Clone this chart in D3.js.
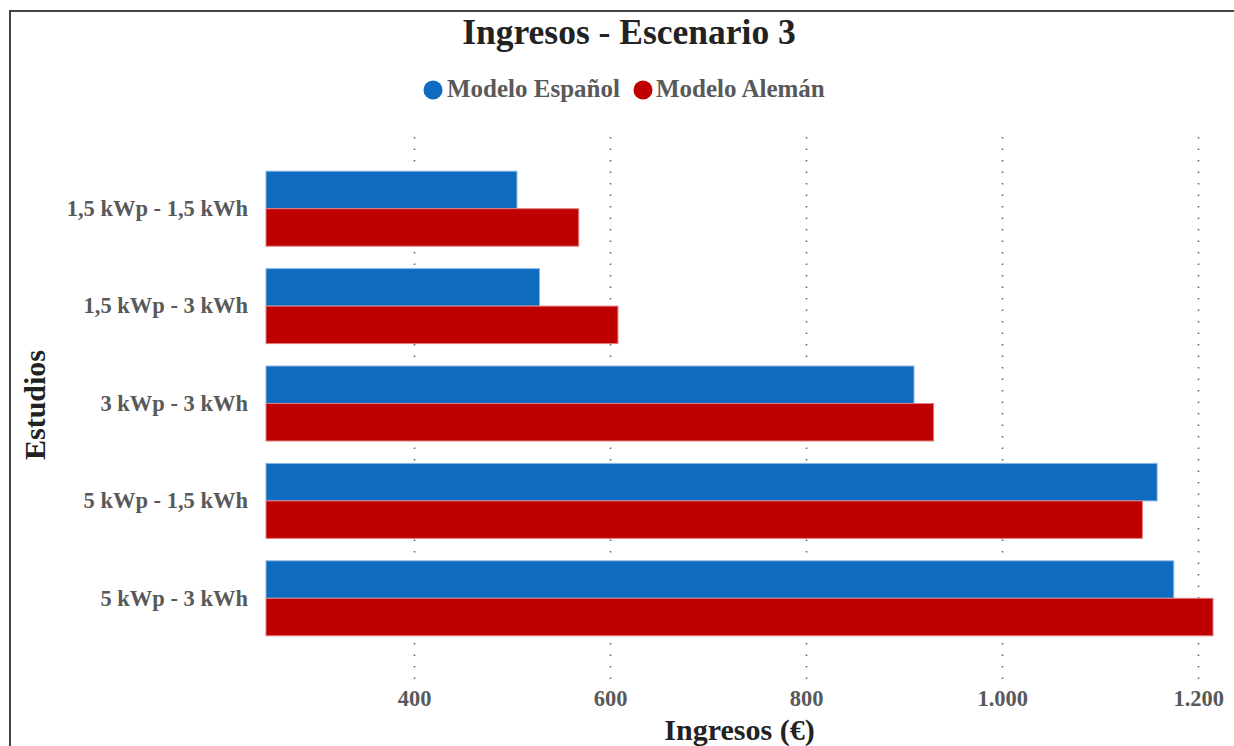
<!DOCTYPE html>
<html>
<head>
<meta charset="utf-8">
<script src="https://cdn.jsdelivr.net/npm/d3@7"></script>
<style>
  html, body { margin: 0; padding: 0; background: #fff; }
  svg { display: block; }
  text { font-family: "Liberation Serif", "Times New Roman", serif; font-weight: bold; }
</style>
</head>
<body>
<svg id="chart" width="1234" height="746"></svg>
<script>
// Studies (categories) and income per model, in euros
const categories = ["1,5 kWp - 1,5 kWh", "1,5 kWp - 3 kWh", "3 kWp - 3 kWh", "5 kWp - 1,5 kWh", "5 kWp - 3 kWh"];
const seriesNames = ["Modelo Español", "Modelo Alemán"];
const modeloEspanol = [505, 528, 910, 1158, 1175];
const modeloAleman = [568, 608, 930, 1143, 1215];
const tickValues = [400, 600, 800, 1000, 1200];
const tickLabels = ["400", "600", "800", "1.000", "1.200"];
const colors = ["#0F6BC0", "#BF0000"];

const svg = d3.select("#chart");
const W = 1234, H = 746;

// outer frame (open to the right/bottom edge)
svg.append("path")
  .attr("d", `M10,${H + 5} L10,11 L${W + 5},11`)
  .attr("fill", "none").attr("stroke", "#444").attr("stroke-width", 2);

const x = d3.scaleLinear().domain([249, 1215]).range([266, 1213]);
const y0 = d3.scaleBand().domain(categories).range([160, 647]).paddingInner(0.23).paddingOuter(0.115);
const y1 = d3.scaleBand().domain(seriesNames).range([0, y0.bandwidth()]);

// dotted vertical gridlines
const grid = svg.append("g").attr("class", "grid");
grid.selectAll("line").data(tickValues).join("line")
  .attr("x1", d => Math.round(x(d)) + 0.5).attr("x2", d => Math.round(x(d)) + 0.5)
  .attr("y1", 137).attr("y2", 680)
  .attr("stroke", "#666").attr("stroke-width", 1.6).attr("stroke-dasharray", "1.6,9.9");

// bars
const rows = categories.map((c, i) => ({ cat: c, vals: [modeloEspanol[i], modeloAleman[i]] }));
const groups = svg.append("g").selectAll("g").data(rows).join("g")
  .attr("transform", d => `translate(0,${y0(d.cat)})`);
groups.selectAll("rect").data(d => d.vals.map((v, j) => ({ v, j })))
  .join("rect")
  .attr("x", x(249))
  .attr("y", d => y1(seriesNames[d.j]))
  .attr("width", d => x(d.v) - x(249))
  .attr("height", y1.bandwidth())
  .attr("fill", d => colors[d.j])
  .attr("stroke", d => d.j === 0 ? "#8db8e6" : "#e08080")
  .attr("stroke-width", 1);

// y axis labels
const yAxis = d3.axisLeft(y0).tickSize(0).tickPadding(18);
const gy = svg.append("g").attr("transform", `translate(266,0)`).call(yAxis);
gy.select(".domain").remove();
gy.selectAll("text")
  .attr("font-family", "Liberation Serif, serif").attr("font-weight", "bold")
  .attr("font-size", 22.5).attr("fill", "#595959");

// x axis labels
const xAxis = d3.axisBottom(x).tickValues(tickValues).tickFormat((d, i) => tickLabels[i]).tickSize(0).tickPadding(0);
const gx = svg.append("g").attr("transform", `translate(0,690)`).call(xAxis);
gx.select(".domain").remove();
gx.selectAll("text")
  .attr("font-family", "Liberation Serif, serif").attr("font-weight", "bold")
  .attr("font-size", 22.5).attr("fill", "#595959");

// title
svg.append("text").attr("x", 629).attr("y", 44).attr("text-anchor", "middle")
  .attr("font-size", 35.5).attr("fill", "#222").text("Ingresos - Escenario 3");

// legend
const legend = svg.append("g");
const legendItems = [{ name: seriesNames[0], cx: 433, tx: 447 }, { name: seriesNames[1], cx: 643, tx: 656 }];
legendItems.forEach((it, i) => {
  legend.append("circle").attr("cx", it.cx).attr("cy", 90).attr("r", 9.5).attr("fill", colors[i]);
  legend.append("text").attr("x", it.tx).attr("y", 97).attr("font-size", 25).attr("fill", "#595959").text(it.name);
});

// axis titles
svg.append("text").attr("x", 739.5).attr("y", 740).attr("text-anchor", "middle")
  .attr("font-size", 30).attr("fill", "#222").text("Ingresos (€)");
svg.append("text").attr("transform", "translate(45,405) rotate(-90)").attr("text-anchor", "middle")
  .attr("font-size", 30).attr("fill", "#222").text("Estudios");
</script>
</body>
</html>
